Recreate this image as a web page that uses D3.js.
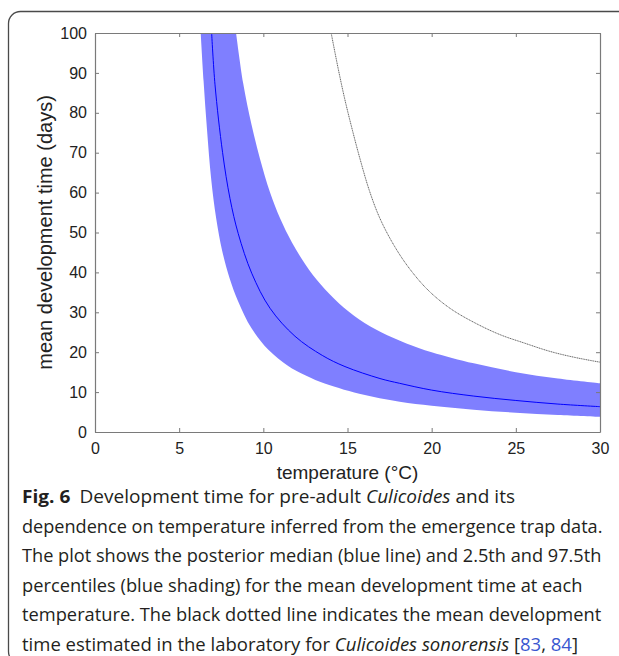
<!DOCTYPE html>
<html>
<head>
<meta charset="utf-8">
<script src="https://cdn.jsdelivr.net/npm/d3@7"></script>
<style>
body { margin: 0; background: #fff; }
svg { display: block; }
</style>
</head>
<body>
<svg id="chart" width="619" height="656"></svg>
<script>
// values: temperature (°C) -> mean development time (days)
let lowerTemp = [6.28, 6.45, 6.65, 6.9, 7.2, 7.55, 8.0, 8.5, 9.3, 10.3, 11.5, 12.3, 13.4, 15.7, 18.1, 20, 22.5, 25, 27.5, 30];
let lowerDays = [100, 88, 76, 63.5, 53.5, 45.5, 38.5, 32.8, 26.0, 20.6, 16.5, 14.6, 12.55, 9.6, 7.6, 6.6, 5.6, 4.85, 4.27, 3.8];

let upperTemp = [8.38, 8.8, 9.3, 9.8, 10.4, 11.0, 11.7, 12.5, 13.4, 14.5, 15.7, 17, 18.5, 20, 22.5, 25, 27.5, 30];
let upperDays = [100, 87.5, 77, 68.5, 60, 53.5, 47.5, 42, 37, 32.2, 28.2, 25.0, 22.2, 20.0, 17.2, 15.0, 13.4, 12.2];

let medianTemp = [6.93, 7.13, 7.58, 8.02, 8.51, 9.31, 10.4, 11.88, 13.5, 14.85, 16.93, 18.1, 20, 22.5, 25, 27.5, 30];
let medianDays = [100, 87, 70, 58.5, 49.7, 39.8, 31, 24, 19.2, 16.4, 13.4, 12.2, 10.5, 9.0, 7.9, 7.0, 6.35];

let labTemp = [14.03, 14.45, 14.85, 15.3, 15.74, 16.3, 16.93, 17.8, 18.71, 19.8, 21.09, 22.5, 24.06, 25.5, 27.03, 28.5, 30];
let labDays = [100, 91, 83.2, 75.5, 68.5, 60.5, 53.5, 46.5, 40.8, 35.5, 31, 27.5, 24.4, 22.3, 20.2, 18.7, 17.5];

let xTicks = [0, 5, 10, 15, 20, 25, 30];
let yTicks = [0, 10, 20, 30, 40, 50, 60, 70, 80, 90, 100];

let captionLines = [
  [["Fig. 6", "bold"], ["Development time for pre-adult ", "plain", 9], ["Culicoides", "italic"], [" and its", "plain"]],
  [["dependence on temperature inferred from the emergence trap data.", "plain"]],
  [["The plot shows the posterior median (blue line) and 2.5th and 97.5th", "plain"]],
  [["percentiles (blue shading) for the mean development time at each", "plain"]],
  [["temperature. The black dotted line indicates the mean development", "plain"]],
  [["time estimated in the laboratory for ", "plain"], ["Culicoides sonorensis", "italic"], [" [", "plain"], ["83", "link"], [", ", "plain"], ["84", "link"], ["]", "plain"]]
];
let captionWidths = [484, 581, 580, 561, 580, 556];

let svg = d3.select("#chart");

svg.append("rect")
  .attr("width", 619).attr("height", 656)
  .attr("fill", "#fff");

// rounded frame around the figure (runs off the right and bottom)
svg.append("rect")
  .attr("x", 8.5).attr("y", 11.5)
  .attr("width", 640).attr("height", 652)
  .attr("rx", 12)
  .attr("fill", "none")
  .attr("stroke", "#4a4a4a")
  .attr("stroke-width", 1.3);

let plotLeft = 95, plotRight = 600, plotTop = 33, plotBottom = 432;

let x = d3.scaleLinear().domain([0, 30]).range([plotLeft, plotRight]);
let y = d3.scaleLinear().domain([0, 100]).range([plotBottom, plotTop]);

svg.append("clipPath").attr("id", "plotClip")
  .append("rect")
  .attr("x", plotLeft).attr("y", plotTop)
  .attr("width", plotRight - plotLeft).attr("height", plotBottom - plotTop);

let plot = svg.append("g").attr("clip-path", "url(#plotClip)");

let line = d3.line()
  .x(d => x(d[0]))
  .y(d => y(d[1]))
  .curve(d3.curveCatmullRom.alpha(0.5));

let lowerPts = d3.zip(lowerTemp, lowerDays);
let upperPts = d3.zip(upperTemp, upperDays).reverse();
let bandPath = line(lowerPts) + line(upperPts).replace(/^M/, "L") + "Z";

plot.append("path")
  .attr("d", bandPath)
  .attr("fill", "#7f7fff")
  .attr("stroke", "none");

plot.append("path")
  .datum(d3.zip(medianTemp, medianDays))
  .attr("d", line)
  .attr("fill", "none")
  .attr("stroke", "#0000ff")
  .attr("stroke-width", 1);

plot.append("path")
  .datum(d3.zip(labTemp, labDays))
  .attr("d", line)
  .attr("fill", "none")
  .attr("stroke", "#555")
  .attr("stroke-width", 0.9)
  .attr("stroke-dasharray", "1.2,0.6");

// axes, ticks pointing inwards, box on all four sides
let styleAxis = function (g) {
  g.attr("font-family", "'Liberation Sans', Arial, sans-serif")
   .attr("font-size", 16);
  g.select(".domain").attr("stroke", "#7a7a7a").attr("stroke-width", 1.2);
  g.selectAll(".tick line").attr("stroke", "#7a7a7a").attr("stroke-width", 1);
  g.selectAll(".tick text").attr("fill", "#222");
};

svg.append("g")
  .attr("transform", "translate(0," + plotBottom + ")")
  .call(d3.axisBottom(x).tickValues(xTicks).tickSize(-4).tickSizeOuter(0).tickPadding(11))
  .call(styleAxis);

svg.append("g")
  .attr("transform", "translate(" + plotLeft + ",0)")
  .call(d3.axisLeft(y).tickValues(yTicks).tickSize(-4).tickSizeOuter(0).tickPadding(8))
  .call(styleAxis);

svg.append("g")
  .attr("transform", "translate(0," + plotTop + ")")
  .call(d3.axisTop(x).tickValues(xTicks).tickSize(-4).tickSizeOuter(0).tickFormat(""))
  .call(styleAxis);

svg.append("g")
  .attr("transform", "translate(" + plotRight + ",0)")
  .call(d3.axisRight(y).tickValues(yTicks).tickSize(-4).tickSizeOuter(0).tickFormat(""))
  .call(styleAxis);

svg.append("text")
  .attr("x", (plotLeft + plotRight) / 2).attr("y", 479)
  .attr("text-anchor", "middle")
  .attr("font-family", "'Liberation Sans', Arial, sans-serif")
  .attr("font-size", 19)
  .attr("fill", "#222")
  .text("temperature (°C)");

svg.append("text")
  .attr("transform", "translate(52," + (plotTop + plotBottom) / 2 + ") rotate(-90)")
  .attr("text-anchor", "middle")
  .attr("font-family", "'Liberation Sans', Arial, sans-serif")
  .attr("font-size", 20)
  .attr("fill", "#222")
  .text("mean development time (days)");

// caption, each line squeezed to the width it has in the figure
captionLines.forEach(function (segs, i) {
  let g = svg.append("g").attr("transform", "translate(22," + (503 + i * 29.5) + ")");
  let t = g.append("text")
    .attr("font-family", "'Open Sans', 'Noto Sans', sans-serif")
    .attr("font-size", 18.5)
    .attr("fill", "#231f20");
  segs.forEach(function (s) {
    let span = t.append("tspan").text(s[0]);
    if (s[1] == "bold") span.attr("font-weight", "bold");
    if (s[1] == "italic") span.attr("font-style", "italic");
    if (s[1] == "link") span.attr("fill", "#3a57d0");
    if (s[2]) span.attr("dx", s[2]);
  });
  let w = t.node().getComputedTextLength();
  t.attr("transform", "scale(" + (captionWidths[i] / w) + ",1)");
});
</script>
</body>
</html>
